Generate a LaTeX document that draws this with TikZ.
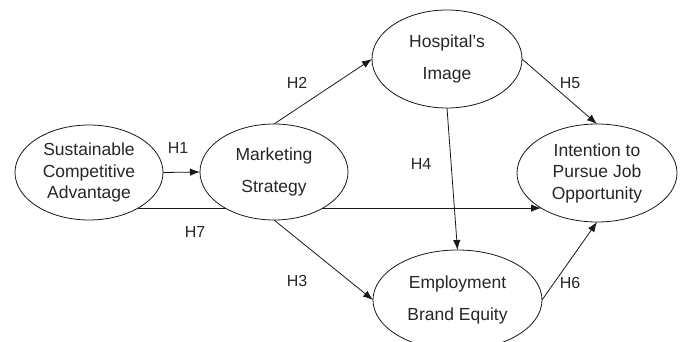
\documentclass[tikz,border=0pt]{standalone}
\usepackage{fontspec}
\setmainfont{Liberation Sans}
\usetikzlibrary{shapes.geometric,arrows.meta,backgrounds}
\begin{document}
\begin{tikzpicture}[x=1pt,y=1pt,
    construct/.style={ellipse,draw=black!90,line width=0.8pt,fill=white,inner sep=0pt,outer sep=0pt,
      align=center,text=black!85,font=\fontsize{17.5}{32}\selectfont},
    tall/.style={font=\fontsize{17.5}{21.5}\selectfont},
    hyp/.style={text=black!85,font=\fontsize{16}{18}\selectfont,inner sep=0pt},
    link/.style={-{Latex[length=10pt,width=7.5pt]},line width=0.8pt,draw=black!90}]
    \useasboundingbox (0,0) rectangle (681,341);
    \node[construct,tall,minimum width=148pt,minimum height=95pt] (SCA) at (89,168.5) {Sustainable\\Competitive\\Advantage};
    \node[construct,minimum width=148pt,minimum height=96pt] (MS) at (274,169) {Marketing\\Strategy};
    \node[construct,minimum width=150pt,minimum height=98pt] (HI) at (447,282) {Hospital's\\Image};
    \node[construct,tall,minimum width=160pt,minimum height=98pt] (IPJ) at (597,168) {Intention to\\ Pursue Job\\Opportunity};
    \node[construct,minimum width=169pt,minimum height=100pt] (EBE) at (457.5,41) {Employment\\Brand Equity};
    % hypothesis labels
    \node[hyp] (H1) at (178,193) {H1};
    \node[hyp] (H2) at (297,258) {H2};
    \node[hyp] (H3) at (297,60) {H3};
    \node[hyp] (H4) at (421,177) {H4};
    \node[hyp] (H5) at (570,258) {H5};
    \node[hyp] (H6) at (570,58) {H6};
    \node[hyp] (H7) at (195,109) {H7};
    \begin{scope}[on background layer]
    \draw [link] (SCA.east) -- (MS.west);
    \draw [link] (MS.north) -- (HI.west);
    \draw [link] (MS.south) -- (EBE.west);
    \draw [link] (HI.south) -- (EBE.north);
    \draw [link] (HI.east) -- (IPJ.north);
    \draw [link] (EBE.east) -- (IPJ.south);
    \draw [link] (SCA.-36) -- (SCA.-36 -| IPJ.-148);
    \end{scope}
\end{tikzpicture}
\end{document}
